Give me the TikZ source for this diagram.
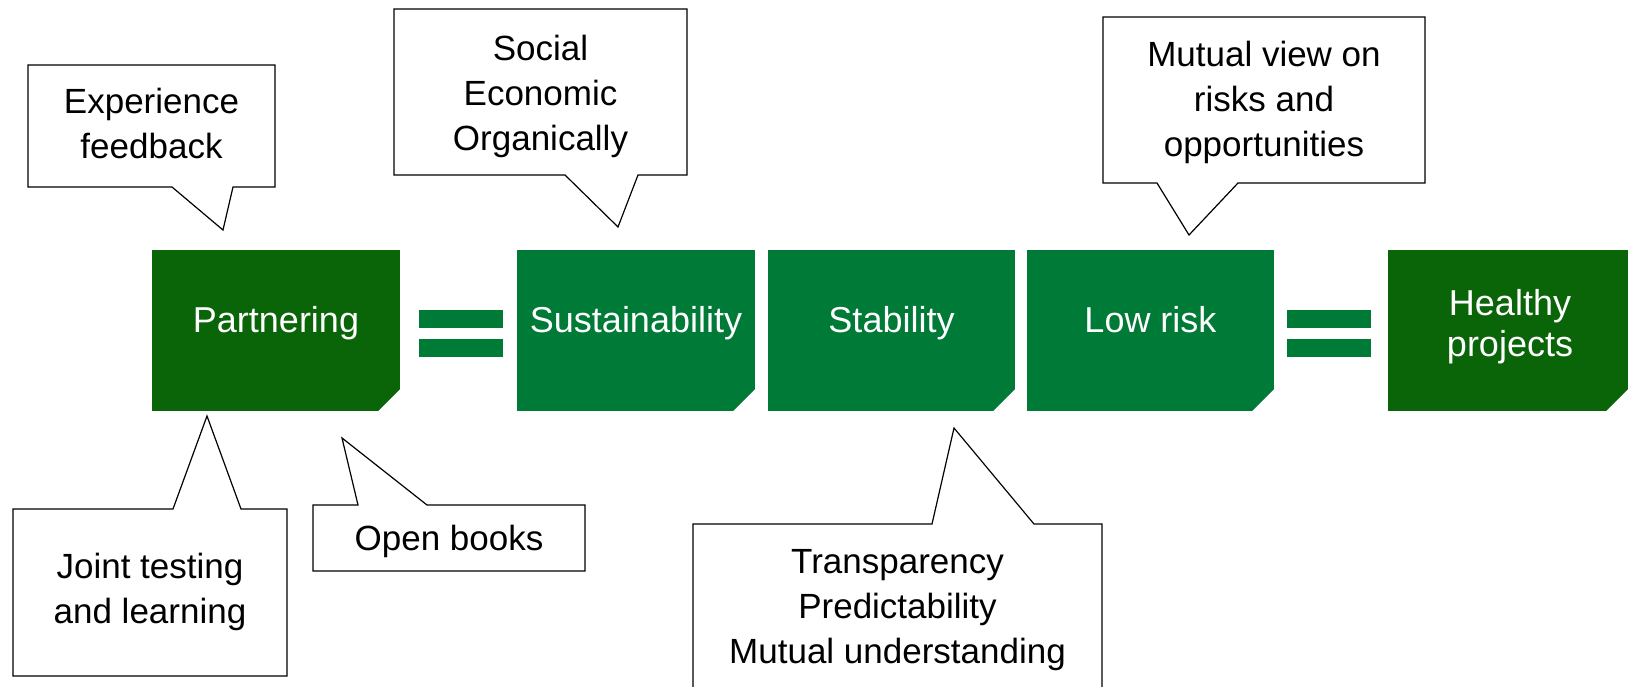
\documentclass[tikz,border=0pt]{standalone}
\usepackage{fontspec}
\setmainfont{Liberation Sans}
\definecolor{dkgreen}{RGB}{10,100,8}
\definecolor{mdgreen}{RGB}{0,122,55}
\tikzset{
  gbox/.style={rectangle, inner sep=0pt, minimum height=161pt},
  boxtext/.style={anchor=base, inner sep=0pt, text=white, font=\fontsize{36}{41}\selectfont, align=center},
  callout/.style={draw=black, line width=1.2pt, fill=white, line join=miter},
  ctext/.style={anchor=north, inner sep=0pt, align=center, font=\fontsize{35}{45}\selectfont},
  eqbar/.style={fill=mdgreen, draw=none}
}
\newcommand{\foldcorner}[1]{\fill[white] ([yshift=22pt]#1.south east) -- (#1.south east) -- ([xshift=-22pt]#1.south east) -- cycle;}
\begin{document}
\begin{tikzpicture}[x=1pt,y=-1pt]
\useasboundingbox (0,0) rectangle (1628,686);

% green boxes
\node[gbox, fill=dkgreen, minimum width=248pt] (part) at (276,330.5) {};
\node[gbox, fill=mdgreen, minimum width=238pt] (sust) at (636,330.5) {};
\node[gbox, fill=mdgreen, minimum width=247pt] (stab) at (891.5,330.5) {};
\node[gbox, fill=mdgreen, minimum width=247pt] (lowr) at (1150.5,330.5) {};
\node[gbox, fill=dkgreen, minimum width=240pt] (heal) at (1508,330.5) {};
\foldcorner{part}
\foldcorner{sust}
\foldcorner{stab}
\foldcorner{lowr}
\foldcorner{heal}

\node[boxtext] (tpart) at (276,332) {Partnering};
\node[boxtext] (tsust) at (636,332) {Sustainability};
\node[boxtext] (tstab) at (891.5,332) {Stability};
\node[boxtext] (tlowr) at (1150.5,332) {Low risk};
\node[boxtext] (theal) at (1510,356) {Healthy\\projects};

% equals signs
\fill[eqbar] (419,310) rectangle (503,328);
\fill[eqbar] (419,339) rectangle (503,357);
\fill[eqbar] (1287,310) rectangle (1371,328);
\fill[eqbar] (1287,339) rectangle (1371,357);

% callouts
\draw[callout] (28,65) -- (275,65) -- (275,187) -- (233,187) -- (223,230) -- (172,187) -- (28,187) -- cycle;
\node[ctext] (cexp) at (151.5,82) {\strut Experience\\\strut feedback};

\draw[callout] (394,9) -- (687,9) -- (687,175) -- (638,175) -- (618,227) -- (565,175) -- (394,175) -- cycle;
\node[ctext] (csoc) at (540.5,28.5) {\strut Social\\\strut Economic\\\strut Organically};

\draw[callout] (1103,17) -- (1425,17) -- (1425,183) -- (1238,183) -- (1189,235) -- (1157,183) -- (1103,183) -- cycle;
\node[ctext] (cmut) at (1264,35) {\strut Mutual view on\\\strut risks and\\\strut opportunities};

\draw[callout] (13,509) -- (173,509) -- (207,416) -- (241,509) -- (287,509) -- (287,676) -- (13,676) -- cycle;
\node[ctext] (cjoint) at (150,546.5) {\strut Joint testing\\\strut and learning};

\draw[callout] (313,505) -- (358,505) -- (342,438) -- (427,505) -- (585,505) -- (585,571) -- (313,571) -- cycle;
\node[ctext] (copen) at (449,518.5) {\strut Open books};

\draw[callout] (693,524) -- (932,524) -- (954,428) -- (1034,524) -- (1102,524) -- (1102,700) -- (693,700) -- cycle;
\node[ctext] (ctrans) at (897.5,541.5) {\strut Transparency\\\strut Predictability\\\strut Mutual understanding};
\end{tikzpicture}
\end{document}
